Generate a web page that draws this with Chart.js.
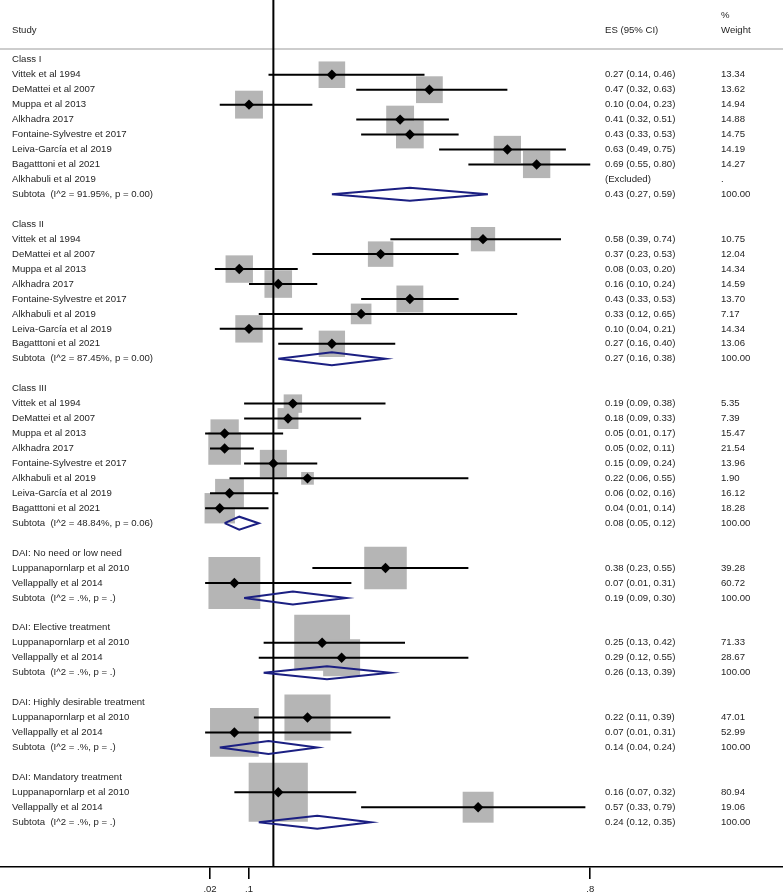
<!DOCTYPE html>
<html><head><meta charset="utf-8">
<script src="https://cdn.jsdelivr.net/npm/chart.js@4"></script>
<style>html,body{margin:0;padding:0;background:#fff}#wrap{width:783px;height:895px;position:relative}</style>
</head><body><div id="wrap"><canvas id="c"></canvas></div>
<script>
// ---------- DATA ----------
const groupNames = ["Class I", "Class II", "Class III", "DAI: No need or low need",
  "DAI: Elective treatment", "DAI: Highly desirable treatment", "DAI: Mandatory treatment"];

const studyNames = [
  "Vittek et al 1994", "DeMattei et al 2007", "Muppa et al 2013", "Alkhadra 2017",
  "Fontaine-Sylvestre et 2017", "Leiva-García et al 2019", "Bagatttoni et al 2021", "Alkhabuli et al 2019",
  "Vittek et al 1994", "DeMattei et al 2007", "Muppa et al 2013", "Alkhadra 2017",
  "Fontaine-Sylvestre et 2017", "Alkhabuli et al 2019", "Leiva-García et al 2019", "Bagatttoni et al 2021",
  "Vittek et al 1994", "DeMattei et al 2007", "Muppa et al 2013", "Alkhadra 2017",
  "Fontaine-Sylvestre et 2017", "Alkhabuli et al 2019", "Leiva-García et al 2019", "Bagatttoni et al 2021",
  "Luppanapornlarp et al 2010", "Vellappally et al 2014",
  "Luppanapornlarp et al 2010", "Vellappally et al 2014",
  "Luppanapornlarp et al 2010", "Vellappally et al 2014",
  "Luppanapornlarp et al 2010", "Vellappally et al 2014"];
const studyGroup = [0,0,0,0,0,0,0,0, 1,1,1,1,1,1,1,1, 2,2,2,2,2,2,2,2, 3,3, 4,4, 5,5, 6,6];
const studyES   = [0.27,0.47,0.10,0.41,0.43,0.63,0.69,null, 0.58,0.37,0.08,0.16,0.43,0.33,0.10,0.27,
  0.19,0.18,0.05,0.05,0.15,0.22,0.06,0.04, 0.38,0.07, 0.25,0.29, 0.22,0.07, 0.16,0.57];
const studyLow  = [0.14,0.32,0.04,0.32,0.33,0.49,0.55,null, 0.39,0.23,0.03,0.10,0.33,0.12,0.04,0.16,
  0.09,0.09,0.01,0.02,0.09,0.06,0.02,0.01, 0.23,0.01, 0.13,0.12, 0.11,0.01, 0.07,0.33];
const studyHigh = [0.46,0.63,0.23,0.51,0.53,0.75,0.80,null, 0.74,0.53,0.20,0.24,0.53,0.65,0.21,0.40,
  0.38,0.33,0.17,0.11,0.24,0.55,0.16,0.14, 0.55,0.31, 0.42,0.55, 0.39,0.31, 0.32,0.79];
const studyWeight = [13.34,13.62,14.94,14.88,14.75,14.19,14.27,null, 10.75,12.04,14.34,14.59,13.70,7.17,14.34,13.06,
  5.35,7.39,15.47,21.54,13.96,1.90,16.12,18.28, 39.28,60.72, 71.33,28.67, 47.01,52.99, 80.94,19.06];

const subtotalLabel = ["Subtota  (I^2 = 91.95%, p = 0.00)", "Subtota  (I^2 = 87.45%, p = 0.00)",
  "Subtota  (I^2 = 48.84%, p = 0.06)", "Subtota  (I^2 = .%, p = .)", "Subtota  (I^2 = .%, p = .)",
  "Subtota  (I^2 = .%, p = .)", "Subtota  (I^2 = .%, p = .)"];
const subtotalES   = [0.43, 0.27, 0.08, 0.19, 0.26, 0.14, 0.24];
const subtotalLow  = [0.27, 0.16, 0.05, 0.09, 0.13, 0.04, 0.12];
const subtotalHigh = [0.59, 0.38, 0.12, 0.30, 0.39, 0.24, 0.35];

const tickValues = [0.02, 0.1, 0.8];
const tickLabels = [".02", ".1", ".8"];
const refValue = 0.15;

// ---------- LAYOUT OF ROWS ----------
const rows = [];
let r = 0;
groupNames.forEach((g, gi) => {
  rows.push({row: r, left: g}); r++;
  studyNames.forEach((n, i) => {
    if (studyGroup[i] !== gi) return;
    const ex = studyES[i] === null;
    rows.push({row: r, left: n, idx: i,
      es: ex ? "(Excluded)" : `${studyES[i].toFixed(2)} (${studyLow[i].toFixed(2)}, ${studyHigh[i].toFixed(2)})`,
      w: ex ? "." : studyWeight[i].toFixed(2)});
    r++;
  });
  rows.push({row: r, left: subtotalLabel[gi], sub: gi,
    es: `${subtotalES[gi].toFixed(2)} (${subtotalLow[gi].toFixed(2)}, ${subtotalHigh[gi].toFixed(2)})`, w: "100.00"});
  r += 2;
});
const rowTop = -4, rowBottom = 54;

const studyRows = rows.filter(o => o.idx !== undefined && studyES[o.idx] !== null);
const subRows = rows.filter(o => o.sub !== undefined);
const GAP = {x: NaN, y: NaN};
const DH = 0.435;

const markerData = studyRows.map(o => ({x: studyES[o.idx], y: o.row}));
const squareData = studyRows.map(o => ({x: studyES[o.idx], y: o.row}));
const squareRadius = studyRows.map(o => (6.1 * Math.sqrt(studyWeight[o.idx]) + 4.3) / Math.SQRT2);
const ciData = [];
studyRows.forEach(o => { ciData.push({x: studyLow[o.idx], y: o.row}, {x: studyHigh[o.idx], y: o.row}, GAP); });
const diamondData = [];
subRows.forEach(o => {
  const g = o.sub;
  diamondData.push({x: subtotalLow[g], y: o.row}, {x: subtotalES[g], y: o.row - DH},
    {x: subtotalHigh[g], y: o.row}, {x: subtotalES[g], y: o.row + DH}, {x: subtotalLow[g], y: o.row}, GAP);
});

const FONT = '9.6px "Liberation Sans", Arial, sans-serif';
const textPlugin = {
  id: 'forestText',
  beforeDatasetsDraw(chart) {
    const ctx = chart.ctx, y = chart.scales.y;
    ctx.save();
    ctx.strokeStyle = '#bdbdbd'; ctx.lineWidth = 1.5;
    const yy = y.getPixelForValue(-0.72);
    ctx.beginPath(); ctx.moveTo(0, yy); ctx.lineTo(chart.width, yy); ctx.stroke();
    ctx.restore();
  },
  afterDatasetsDraw(chart) {
    const ctx = chart.ctx, y = chart.scales.y;
    ctx.save();
    ctx.font = FONT; ctx.fillStyle = '#1e1e1e'; ctx.textBaseline = 'middle'; ctx.textAlign = 'left';
    ctx.fillText("Study", 12, y.getPixelForValue(-2));
    ctx.fillText("ES (95% CI)", 605, y.getPixelForValue(-2));
    ctx.fillText("%", 721, y.getPixelForValue(-3));
    ctx.fillText("Weight", 721, y.getPixelForValue(-2));
    rows.forEach(o => {
      const py = y.getPixelForValue(o.row);
      ctx.fillText(o.left, 12, py);
      if (o.es) ctx.fillText(o.es, 605, py);
      if (o.w) ctx.fillText(o.w, 721, py);
    });
    ctx.restore();
  }
};

new Chart(document.getElementById('c'), {
  type: 'scatter',
  data: {
    datasets: [
      {data: markerData, pointStyle: 'rectRot', pointRadius: 5.2, backgroundColor: '#000', borderColor: '#000', pointBorderWidth: 0},
      {data: diamondData, showLine: true, spanGaps: false, borderColor: '#1b1f82', borderWidth: 2, pointRadius: 0, fill: false},
      {data: ciData, showLine: true, spanGaps: false, borderColor: '#000', borderWidth: 2, pointRadius: 0, fill: false},
      {data: [{x: refValue, y: rowTop}, {x: refValue, y: rowBottom}], showLine: true, borderColor: '#000', borderWidth: 2, pointRadius: 0},
      {data: squareData, pointStyle: 'rect', pointRadius: squareRadius, backgroundColor: '#b5b5b5', borderColor: '#b5b5b5', pointBorderWidth: 0}
    ]
  },
  options: {
    responsive: true, maintainAspectRatio: false, animation: false, events: [],
    layout: {padding: 0, autoPadding: false},
    plugins: {legend: {display: false}, tooltip: {enabled: false}},
    scales: {
      x: {
        type: 'linear', position: 'bottom',
        min: -200.25 / 487.5, max: (783 - 200.25) / 487.5,
        afterBuildTicks: s => { s.ticks = tickValues.map(v => ({value: v})); },
        afterFit: s => { s.height = 28; },
        ticks: {autoSkip: false, maxRotation: 0, padding: 5, color: '#222',
          font: {family: '"Liberation Sans", Arial, sans-serif', size: 9.5},
          callback: v => tickLabels[tickValues.indexOf(v)]},
        grid: {drawOnChartArea: false, drawTicks: true, tickLength: 12, color: '#000', lineWidth: 1.6},
        border: {display: true, color: '#000', width: 1.6}
      },
      y: {type: 'linear', display: false, reverse: true, min: rowTop, max: rowBottom}
    }
  },
  plugins: [textPlugin]
});
</script></body></html>
